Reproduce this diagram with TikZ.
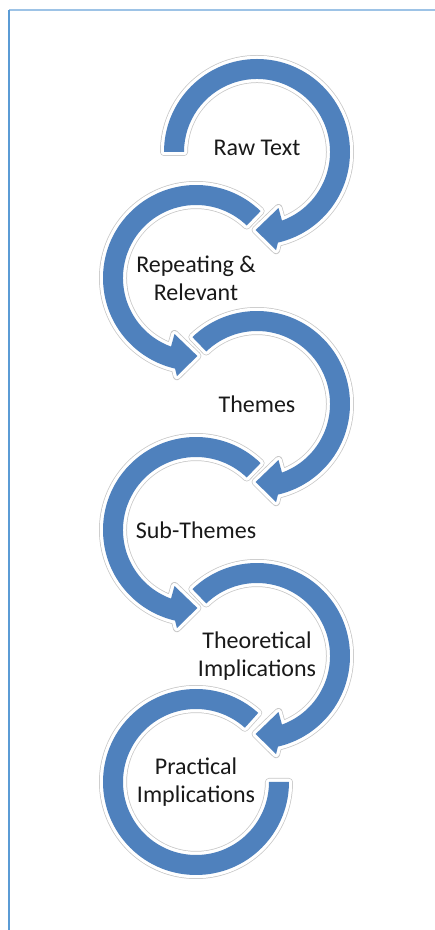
\documentclass[tikz,border=0pt]{standalone}
\usepackage{fontspec}
\setmainfont{Carlito}
\definecolor{ringblue}{RGB}{79,129,189}
\definecolor{framelight}{RGB}{157,195,230}
\definecolor{framedark}{RGB}{91,155,213}
\tikzset{
    ring/.style={fill=ringblue, line join=round,
        preaction={draw=black!22, line width=8, line join=round},
        preaction={draw=white, line width=6.5, line join=round}},
    lbl/.style={font=\fontsize{24}{28}\selectfont, align=center, text=black!90},
}

\begin{document}
\begin{tikzpicture}[x=1pt, y=1pt]

    \useasboundingbox (0,0) rectangle (435,930);

    \draw[color=framelight, line width=2] (9,920) -- (435,920);
    \draw[color=framedark, line width=1.5] (9,920) -- (9,0);

    \coordinate (c1) at (257,778);
    \coordinate (c2) at (196,652);
    \coordinate (c3) at (257,526);
    \coordinate (c4) at (196,400);
    \coordinate (c5) at (257,274);
    \coordinate (c6) at (196,148);

    % last one first, so every head lies on the next ring
    \path[ring] ([shift={(48:93)}]c6) arc[start angle=48, end angle=360, radius=93]
        -- ([shift={(0:73)}]c6) arc[start angle=360, end angle=48, radius=73] -- cycle;

    \path[ring] ([shift={(134:93)}]c5) arc[start angle=134, end angle=-77, radius=93]
        -- ([shift={(-79:100)}]c5) -- ([shift={(-91:78)}]c5) -- ([shift={(-69:60)}]c5)
        -- ([shift={(-70:73)}]c5) arc[start angle=-70, end angle=134, radius=73] -- cycle;

    \path[ring] ([shift={(46:93)}]c4) arc[start angle=46, end angle=257, radius=93]
        -- ([shift={(259:100)}]c4) -- ([shift={(271:78)}]c4) -- ([shift={(249:60)}]c4)
        -- ([shift={(250:73)}]c4) arc[start angle=250, end angle=46, radius=73] -- cycle;

    \path[ring] ([shift={(134:93)}]c3) arc[start angle=134, end angle=-77, radius=93]
        -- ([shift={(-79:100)}]c3) -- ([shift={(-91:78)}]c3) -- ([shift={(-69:60)}]c3)
        -- ([shift={(-70:73)}]c3) arc[start angle=-70, end angle=134, radius=73] -- cycle;

    \path[ring] ([shift={(46:93)}]c2) arc[start angle=46, end angle=257, radius=93]
        -- ([shift={(259:100)}]c2) -- ([shift={(271:78)}]c2) -- ([shift={(249:60)}]c2)
        -- ([shift={(250:73)}]c2) arc[start angle=250, end angle=46, radius=73] -- cycle;

    \path[ring] ([shift={(180:93)}]c1) arc[start angle=180, end angle=-77, radius=93]
        -- ([shift={(-79:100)}]c1) -- ([shift={(-91:78)}]c1) -- ([shift={(-69:60)}]c1)
        -- ([shift={(-70:73)}]c1) arc[start angle=-70, end angle=180, radius=73] -- cycle;

    \node[lbl] (raw) at ([yshift=4]c1) {Raw Text};
    \node[lbl] (repeating) at (c2) {Repeating \&\\Relevant};
    \node[lbl] (themes) at (c3) {Themes};
    \node[lbl] (subthemes) at (c4) {Sub-Themes};
    \node[lbl] (theoretical) at (c5) {Theoretical\\Implications};
    \node[lbl] (practical) at (c6) {Practical\\Implications};

\end{tikzpicture}
\end{document}
